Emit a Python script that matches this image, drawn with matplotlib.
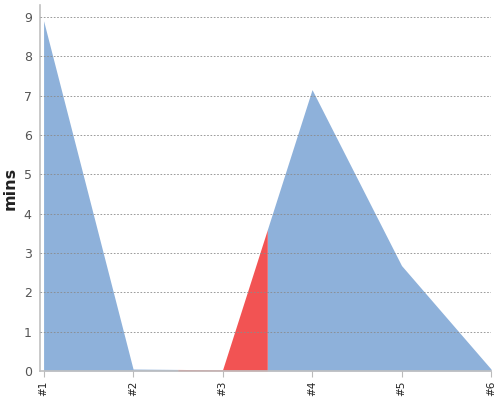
import numpy as np
import matplotlib
matplotlib.use("Agg")
import matplotlib.pyplot as plt

# Данные
labels = ["#1", "#2", "#3", "#4", "#5", "#6"]
values = [8.9, 0.05, 0.03, 7.15, 2.68, 0.05]
highlight = (1.5, 2.5)  # выделенный участок (в индексах категорий)

x = np.arange(len(labels))
y = np.array(values)

fig = plt.figure(figsize=(5, 4), dpi=100)
ax = fig.add_axes([0.08, 0.0725, 0.902, 0.915])

blue = "#8eb1da"
red = "#f25353"

# основная область, разбитая на три части
xs = np.linspace(0, len(labels) - 1, 2001)
ys = np.interp(xs, x, y)
inside = (xs >= highlight[0]) & (xs <= highlight[1])
ax.fill_between(xs, 0, ys, where=xs <= highlight[0], color=blue, lw=0, zorder=1)
ax.fill_between(xs, 0, ys, where=xs >= highlight[1], color=blue, lw=0, zorder=1)
ax.fill_between(xs, 0, ys, where=inside, color=red, lw=0, zorder=1)

ax.set_xlim(-0.04, len(labels) - 1)
ax.set_ylim(0, 9.3)
ax.set_xticks(x)
ax.set_xticklabels(labels, rotation=90, fontsize=7.5, color="#222222")
ax.set_yticks(range(10))
ax.tick_params(axis="y", length=0, labelsize=9, colors="#555555", pad=6)
ax.tick_params(axis="x", length=4, color="#bbbbbb", pad=3)
ax.set_ylabel("mins", fontsize=11.5, fontweight="bold", color="#222222", labelpad=4)

ax.grid(axis="y", linestyle=(0, (2, 2)), color="#8a8a8a", linewidth=0.6, zorder=3)
ax.set_axisbelow(False)
for s in ["top", "right"]:
    ax.spines[s].set_visible(False)
for s in ["left", "bottom"]:
    ax.spines[s].set_color("#c0c0c0")
    ax.spines[s].set_linewidth(1.2)

fig.savefig("out.png", dpi=100)
